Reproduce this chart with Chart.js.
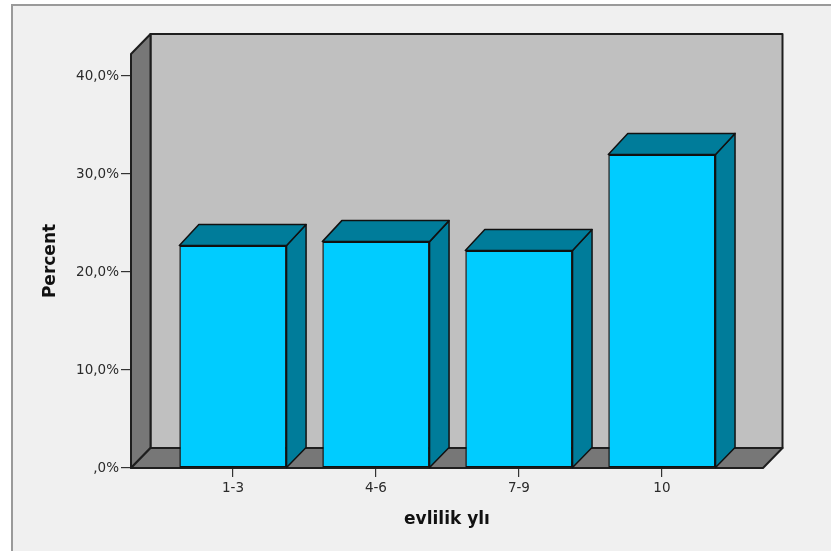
<!DOCTYPE html>
<html>
<head>
<meta charset="utf-8">
<script src="https://cdn.jsdelivr.net/npm/chart.js@4/dist/chart.umd.min.js"></script>
<style>
  html, body { margin: 0; padding: 0; background: #ffffff; overflow: hidden; }
  #wrap { width: 831px; height: 551px; position: relative; }
  canvas { display: block; }
</style>
</head>
<body>
<div id="wrap"><canvas id="chart" width="831" height="551"></canvas></div>
<script>
// Marriage duration groups and their share of respondents (%)
const categories = ['1-3', '4-6', '7-9', '10'];
const percents = [22.7, 23.1, 22.2, 32.0];
const yTicks = [0, 10, 20, 30, 40];

const FRONT = '#00CCFF';
const SHADE = '#007C9A';
const WALL = '#C0C0C0';
const SIDE_WALL = '#777777';

// depth of the box walls and of each bar
const WALL_DX = 19.5, WALL_DY = 20;
const BAR_DX = 19.5, BAR_DY = 21;

function poly(ctx, pts, fill, stroke, lw) {
  ctx.beginPath();
  ctx.moveTo(pts[0][0], pts[0][1]);
  for (let i = 1; i < pts.length; i++) ctx.lineTo(pts[i][0], pts[i][1]);
  ctx.closePath();
  ctx.fillStyle = fill;
  ctx.fill();
  ctx.lineJoin = 'round';
  ctx.strokeStyle = stroke;
  ctx.lineWidth = lw;
  ctx.stroke();
}

// light panel with a grey edge on its left and top
const framePlugin = {
  id: 'frame',
  beforeDraw(chart) {
    const ctx = chart.ctx;
    ctx.save();
    ctx.fillStyle = '#ffffff';
    ctx.fillRect(0, 0, chart.width, chart.height);
    ctx.fillStyle = '#F0F0F0';
    ctx.fillRect(11, 4, chart.width - 11, chart.height - 4);
    ctx.fillStyle = '#9a9a9a';
    ctx.fillRect(11, 4, 2, chart.height - 4);
    ctx.fillRect(11, 4, chart.width - 11, 2);
    ctx.restore();
  }
};

// the open box behind the bars: back wall, left wall and floor
const boxPlugin = {
  id: 'box',
  beforeDatasetsDraw(chart) {
    const {ctx, chartArea: a} = chart;
    const L = a.left, R = a.right, T = a.top, B = a.bottom;
    ctx.save();
    poly(ctx, [[L + WALL_DX, T - WALL_DY], [R + WALL_DX, T - WALL_DY], [R + WALL_DX, B - WALL_DY], [L + WALL_DX, B - WALL_DY]], WALL, '#1e1e1e', 2);
    poly(ctx, [[L, T], [L + WALL_DX, T - WALL_DY], [L + WALL_DX, B - WALL_DY], [L, B]], SIDE_WALL, '#1e1e1e', 2);
    poly(ctx, [[L, B], [L + WALL_DX, B - WALL_DY], [R + WALL_DX, B - WALL_DY], [R, B]], SIDE_WALL, '#1e1e1e', 2);
    ctx.restore();
  },
  // top and right faces of each bar
  afterDatasetsDraw(chart) {
    const ctx = chart.ctx;
    const meta = chart.getDatasetMeta(0);
    ctx.save();
    meta.data.forEach(bar => {
      const {x, y, base, width} = bar.getProps(['x', 'y', 'base', 'width'], true);
      const l = x - width / 2, r = x + width / 2;
      poly(ctx, [[r, y], [r + BAR_DX, y - BAR_DY], [r + BAR_DX, base - WALL_DY], [r, base]], SHADE, '#111', 1.5);
      poly(ctx, [[l, y], [l + BAR_DX, y - BAR_DY], [r + BAR_DX, y - BAR_DY], [r, y]], SHADE, '#111', 1.5);
    });
    ctx.restore();
  }
};

new Chart(document.getElementById('chart'), {
  type: 'bar',
  data: {
    datasets: [{
      data: percents.map((v, i) => ({x: i, y: v})),
      backgroundColor: FRONT,
      borderColor: '#111',
      borderWidth: 1.5,
      borderSkipped: false,
      barPercentage: 0.75,
      categoryPercentage: 1
    }]
  },
  options: {
    responsive: false,
    animation: false,
    events: [],
    layout: { padding: { left: 0, top: 54, right: 68, bottom: 0 } },
    plugins: { legend: { display: false }, tooltip: { enabled: false } },
    scales: {
      x: {
        type: 'linear',
        offset: false,
        min: -0.713,
        max: 3.707,
        afterBuildTicks(scale) { scale.ticks = categories.map((_, i) => ({value: i})); },
        afterFit(scale) { scale.height = 83; },
        grid: { offset: false, drawOnChartArea: false, drawTicks: true, tickLength: 9, color: '#333', lineWidth: 1.2 },
        border: { display: false },
        ticks: {
          callback: v => categories[v],
          padding: 3,
          color: '#2a2a2a',
          font: { family: 'DejaVu Sans', size: 13.5 },
          maxRotation: 0,
          autoSkip: false
        },
        title: {
          display: true,
          text: 'evlilik ylı',
          color: '#111',
          font: { family: 'DejaVu Sans', size: 17, weight: 'bold' },
          padding: { top: 0, bottom: 21 }
        }
      },
      y: {
        min: 0,
        max: 42.245,
        afterBuildTicks(scale) { scale.ticks = yTicks.map(v => ({value: v})); },
        afterFit(scale) { scale.width = 131; },
        grid: { drawOnChartArea: false, drawTicks: true, tickLength: 10, color: '#333', lineWidth: 1.2 },
        border: { display: false },
        ticks: {
          callback: v => (v === 0 ? ',0%' : v.toFixed(1).replace('.', ',') + '%'),
          padding: 2,
          color: '#2a2a2a',
          font: { family: 'DejaVu Sans', size: 13.5 }
        },
        title: {
          display: true,
          text: 'Percent',
          color: '#111',
          font: { family: 'DejaVu Sans', size: 17, weight: 'bold' },
          padding: { top: 40, bottom: 0 }
        }
      }
    }
  },
  plugins: [framePlugin, boxPlugin]
});
</script>
</body>
</html>
